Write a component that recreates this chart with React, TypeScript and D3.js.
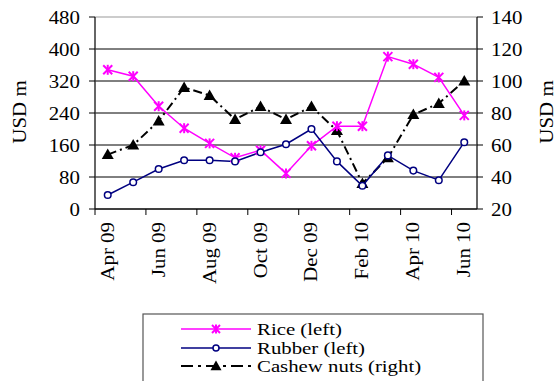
import React from "react";
import * as d3 from "d3";

const months = ["Apr 09","May 09","Jun 09","Jul 09","Aug 09","Sep 09","Oct 09","Nov 09","Dec 09","Jan 10","Feb 10","Mar 10","Apr 10","May 10","Jun 10"];
const tickLabels = ["Apr 09","Jun 09","Aug 09","Oct 09","Dec 09","Feb 10","Apr 10","Jun 10"];
const rice = [348,332,257,202,164,128,147,89,158,207,207,381,362,329,234];
const rubber = [35,67,100,122,122,119,142,162,200,119,58,134,96,72,167];
const cashew = [54,60,75,96,91,76,84,76,84,69,36,52,79,86,100];
const leftTicks = [0,80,160,240,320,400,480];
const rightTicks = [20,40,60,80,100,120,140];
const legendLabels = ["Rice (left)", "Rubber (left)", "Cashew nuts (right)"];

const FONT = "Liberation Serif";
const FS = 19;
const SX = 1.1;

export default function App() {
  const W = 557, H = 381;
  const L = 95, R = 477, T = 17, B = 209;
  const x = d3.scaleBand<string>().domain(months).range([L, R]);
  const yL = d3.scaleLinear().domain([0, 480]).range([B, T]);
  const yR = d3.scaleLinear().domain([20, 140]).range([B, T]);
  const cx = (i: number) => (x(months[i]) as number) + x.bandwidth() / 2;
  const lineL = d3.line<number>().x((_, i) => cx(i)).y((d) => yL(d));
  const lineR = d3.line<number>().x((_, i) => cx(i)).y((d) => yR(d));

  const star = (px: number, py: number, key: any, s = 4.5) => (
    <g key={key} stroke="#ff00ff" strokeWidth={2}>
      <line x1={px - s} y1={py - s} x2={px + s} y2={py + s} />
      <line x1={px - s} y1={py + s} x2={px + s} y2={py - s} />
      <line x1={px} y1={py - s - 0.5} x2={px} y2={py + s + 0.5} />
    </g>
  );
  const tri = (px: number, py: number, key: any, s = 6) => (
    <path key={key} d={`M${px},${py - s}L${px + s},${py + s * 0.75}L${px - s},${py + s * 0.75}Z`} fill="#000" />
  );

  const tickXs = d3.range(0, months.length + 1, 2).map((i) => (i < months.length ? (x(months[i]) as number) : R));
  const T_ = (props: any) => <text fontFamily={FONT} fontSize={FS} fill="#000" {...props} />;

  return (
    <svg width={W} height={H} style={{ position: "absolute", left: 0, top: 0 }}>
      <rect width={W} height={H} fill="#fff" />
      {leftTicks.map((t) => (
        <line key={t} x1={L} x2={R} y1={yL(t)} y2={yL(t)} stroke={t === 480 ? "#999" : "#000"} strokeWidth={1} />
      ))}
      <line x1={L} x2={L} y1={T} y2={B} stroke="#333" strokeWidth={1.5} />
      {leftTicks.map((t) => (
        <g key={"lt" + t}>
          <line x1={L - 6} x2={L} y1={yL(t)} y2={yL(t)} stroke="#000" />
          <T_ transform={`translate(80,${yL(t)}) scale(${SX},1)`} dy="0.35em" textAnchor="end">{t}</T_>
        </g>
      ))}
      <line x1={R} x2={R} y1={T} y2={B} stroke="#333" strokeWidth={1.5} />
      {rightTicks.map((t) => (
        <g key={"rt" + t}>
          <line x1={R} x2={R + 6} y1={yR(t)} y2={yR(t)} stroke="#000" />
          <T_ transform={`translate(491,${yR(t)}) scale(${SX},1)`} dy="0.35em" textAnchor="start">{t}</T_>
        </g>
      ))}
      <line x1={L} x2={R} y1={B} y2={B} stroke="#000" />
      {tickXs.map((tx, i) => (
        <line key={"xt" + i} x1={tx} x2={tx} y1={B} y2={B + 6} stroke="#000" />
      ))}
      {tickLabels.map((lab) => {
        const px = (x(lab) as number) + x.bandwidth() / 2;
        return (
          <T_ key={lab} transform={`translate(${px + 6},222) rotate(-90) scale(${SX},1)`} textAnchor="end">{lab}</T_>
        );
      })}
      <T_ transform={`translate(26,112) rotate(-90) scale(${SX},1)`} textAnchor="middle">USD m</T_>
      <T_ transform={`translate(553,112) rotate(-90) scale(${SX},1)`} textAnchor="middle">USD m</T_>

      <path d={lineR(cashew) || ""} fill="none" stroke="#000" strokeWidth={2} strokeDasharray="9,4,2,4" />
      <path d={lineL(rice) || ""} fill="none" stroke="#ff00ff" strokeWidth={1.5} />
      <path d={lineL(rubber) || ""} fill="none" stroke="#000080" strokeWidth={1.5} />
      {cashew.map((v, i) => tri(cx(i), yR(v), "c" + i))}
      {rice.map((v, i) => star(cx(i), yL(v), "r" + i))}
      {rubber.map((v, i) => (
        <circle key={"b" + i} cx={cx(i)} cy={yL(v)} r={3.3} fill="#fff" stroke="#000080" strokeWidth={1.5} />
      ))}

      <rect x={143} y={314} width={340} height={80} fill="#fff" stroke="#555" strokeWidth={1.2} />
      <line x1={181} x2={251} y1={329} y2={329} stroke="#ff00ff" strokeWidth={1.5} />
      {star(216, 329, "ls", 4)}
      <line x1={181} x2={251} y1={348} y2={348} stroke="#000080" strokeWidth={1.5} />
      <circle cx={216} cy={348} r={3} fill="#fff" stroke="#000080" strokeWidth={1.5} />
      <line x1={181} x2={251} y1={366} y2={366} stroke="#000" strokeWidth={2} strokeDasharray="12,5,3,5" />
      {tri(216, 366, "lt", 5.5)}
      {legendLabels.map((s, i) => (
        <T_ key={s} fontSize={17.5} transform={`translate(257,${[329, 348, 366][i]}) scale(1.19,1)`} dy="0.35em">{s}</T_>
      ))}
    </svg>
  );
}
